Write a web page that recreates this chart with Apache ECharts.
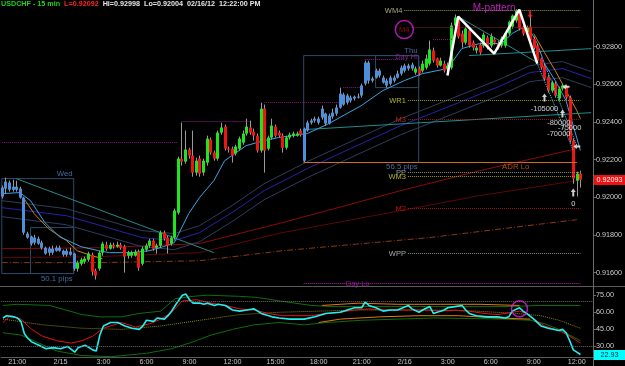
<!DOCTYPE html>
<html>
<head>
<meta charset="utf-8">
<script src="https://cdn.jsdelivr.net/npm/echarts@6/dist/echarts.min.js"></script>
<style>
  html, body { margin: 0; padding: 0; background: #000; }
  #chart { width: 625px; height: 366px; }
</style>
</head>
<body>
<div id="chart"></div>
<script>
const FONT = '"Liberation Sans", Arial, sans-serif';

// USDCHF 15 min, 2/14 20:00 -> 2/16 12:15   [open, close, low, high]
const candles = [
  [0.92003,0.92051,0.91993,0.92062],[0.92046,0.92083,0.92019,0.92104],[0.92078,0.92040,0.92030,0.92088],
  [0.92040,0.92056,0.92030,0.92093],[0.92056,0.92040,0.92030,0.92088],[0.92046,0.91998,0.91993,0.92056],
  [0.91998,0.91812,0.91801,0.92003],[0.91807,0.91786,0.91780,0.91817],[0.91791,0.91754,0.91743,0.91796],
  [0.91759,0.91786,0.91748,0.91801],[0.91780,0.91754,0.91748,0.91791],[0.91759,0.91732,0.91722,0.91770],
  [0.91732,0.91701,0.91695,0.91738],[0.91706,0.91727,0.91690,0.91738],[0.91727,0.91706,0.91695,0.91743],
  [0.91716,0.91732,0.91711,0.91743],[0.91732,0.91716,0.91711,0.91743],[0.91716,0.91695,0.91685,0.91722],
  [0.91695,0.91716,0.91685,0.91727],[0.91711,0.91695,0.91690,0.91732],[0.91701,0.91621,0.91610,0.91706],
  [0.91621,0.91653,0.91605,0.91663],[0.91647,0.91669,0.91637,0.91679],[0.91658,0.91674,0.91647,0.91685],
  [0.91669,0.91701,0.91658,0.91711],[0.91695,0.91605,0.91584,0.91706],[0.91610,0.91584,0.91563,0.91621],
  [0.91621,0.91706,0.91610,0.91716],[0.91706,0.91754,0.91690,0.91764],[0.91748,0.91727,0.91716,0.91764],
  [0.91727,0.91748,0.91722,0.91759],[0.91748,0.91738,0.91727,0.91759],[0.91738,0.91748,0.91732,0.91764],
  [0.91748,0.91732,0.91722,0.91759],[0.91738,0.91685,0.91600,0.91748],[0.91690,0.91706,0.91674,0.91716],
  [0.91690,0.91706,0.91679,0.91716],[0.91690,0.91711,0.91685,0.91722],[0.91711,0.91626,0.91610,0.91722],
  [0.91647,0.91727,0.91637,0.91738],[0.91722,0.91743,0.91711,0.91754],[0.91743,0.91770,0.91732,0.91780],
  [0.91770,0.91727,0.91716,0.91780],[0.91732,0.91743,0.91701,0.91754],[0.91743,0.91812,0.91732,0.91823],
  [0.91812,0.91780,0.91770,0.91823],[0.91786,0.91743,0.91701,0.91796],[0.91754,0.91786,0.91743,0.91796],
  [0.91786,0.91929,0.91775,0.91940],[0.91918,0.92205,0.91908,0.92216],[0.92205,0.92189,0.92168,0.92396],
  [0.92189,0.92253,0.92178,0.92354],[0.92253,0.92221,0.92205,0.92263],[0.92221,0.92131,0.92109,0.92354],
  [0.92131,0.92194,0.92115,0.92210],[0.92205,0.92125,0.92109,0.92221],[0.92131,0.92194,0.92115,0.92205],
  [0.92184,0.92311,0.92168,0.92327],[0.92306,0.92237,0.92226,0.92317],[0.92237,0.92205,0.92194,0.92248],
  [0.92205,0.92343,0.92194,0.92354],[0.92343,0.92370,0.92332,0.92396],[0.92375,0.92258,0.92248,0.92386],
  [0.92258,0.92253,0.92237,0.92269],[0.92258,0.92221,0.92184,0.92269],[0.92232,0.92269,0.92221,0.92279],
  [0.92258,0.92311,0.92248,0.92322],[0.92290,0.92338,0.92279,0.92354],[0.92338,0.92375,0.92327,0.92417],
  [0.92370,0.92343,0.92332,0.92407],[0.92348,0.92327,0.92301,0.92364],[0.92327,0.92248,0.92237,0.92338],
  [0.92248,0.92470,0.92237,0.92502],[0.92470,0.92248,0.92131,0.92492],[0.92258,0.92317,0.92248,0.92327],
  [0.92317,0.92380,0.92306,0.92417],[0.92375,0.92327,0.92317,0.92386],[0.92343,0.92327,0.92317,0.92354],
  [0.92327,0.92263,0.92237,0.92338],[0.92263,0.92317,0.92253,0.92327],[0.92317,0.92332,0.92306,0.92343],
  [0.92327,0.92338,0.92317,0.92348],[0.92327,0.92338,0.92322,0.92348],[0.92354,0.92332,0.92322,0.92364],
  [0.92194,0.92364,0.92184,0.92370],[0.92354,0.92396,0.92348,0.92407],[0.92396,0.92407,0.92386,0.92417],
  [0.92407,0.92417,0.92396,0.92428],[0.92417,0.92396,0.92386,0.92428],[0.92423,0.92470,0.92412,0.92486],
  [0.92444,0.92391,0.92380,0.92449],[0.92391,0.92433,0.92386,0.92444],[0.92428,0.92449,0.92417,0.92470],
  [0.92444,0.92476,0.92433,0.92492],[0.92476,0.92550,0.92470,0.92582],[0.92545,0.92492,0.92486,0.92555],
  [0.92502,0.92540,0.92492,0.92550],[0.92529,0.92513,0.92502,0.92540],[0.92524,0.92534,0.92513,0.92540],
  [0.92529,0.92534,0.92524,0.92550],[0.92540,0.92593,0.92529,0.92603],[0.92603,0.92715,0.92593,0.92725],
  [0.92715,0.92619,0.92603,0.92725],[0.92619,0.92630,0.92609,0.92640],[0.92635,0.92672,0.92630,0.92683],
  [0.92672,0.92646,0.92635,0.92683],[0.92635,0.92609,0.92603,0.92646],[0.92619,0.92593,0.92582,0.92630],
  [0.92603,0.92635,0.92593,0.92646],[0.92619,0.92635,0.92609,0.92646],[0.92635,0.92656,0.92630,0.92672],
  [0.92656,0.92688,0.92646,0.92699],[0.92672,0.92699,0.92662,0.92709],[0.92699,0.92683,0.92672,0.92709],
  [0.92683,0.92704,0.92672,0.92715],[0.92662,0.92683,0.92651,0.92694],[0.92683,0.92656,0.92646,0.92694],
  [0.92672,0.92709,0.92662,0.92725],[0.92688,0.92736,0.92678,0.92757],[0.92709,0.92784,0.92699,0.92832],
  [0.92779,0.92725,0.92715,0.92794],[0.92736,0.92699,0.92688,0.92741],[0.92699,0.92725,0.92694,0.92741],
  [0.92709,0.92672,0.92662,0.92725],[0.92683,0.92699,0.92651,0.92715],[0.92688,0.92911,0.92678,0.92927],
  [0.92911,0.92954,0.92895,0.92970],[0.92948,0.92853,0.92842,0.92959],[0.92869,0.92821,0.92794,0.92885],
  [0.92821,0.92895,0.92810,0.92906],[0.92885,0.92805,0.92794,0.92890],[0.92821,0.92794,0.92779,0.92832],
  [0.92779,0.92794,0.92763,0.92805],[0.92810,0.92768,0.92757,0.92821],[0.92805,0.92863,0.92794,0.92874],
  [0.92848,0.92794,0.92784,0.92858],[0.92805,0.92853,0.92794,0.92869],[0.92837,0.92821,0.92810,0.92848],
  [0.92816,0.92794,0.92784,0.92832],[0.92805,0.92842,0.92794,0.92853],[0.92805,0.92869,0.92794,0.92874],
  [0.92869,0.92932,0.92858,0.92938],[0.92906,0.92964,0.92895,0.92970],[0.92938,0.92991,0.92927,0.92998],
  [0.92980,0.92895,0.92885,0.92996],[0.92906,0.92869,0.92858,0.92911],[0.92874,0.92901,0.92863,0.92911],
  [0.92906,0.92832,0.92821,0.92970],[0.92842,0.92794,0.92784,0.92853],[0.92805,0.92725,0.92715,0.92816],
  [0.92736,0.92688,0.92678,0.92741],[0.92699,0.92630,0.92619,0.92709],[0.92640,0.92566,0.92555,0.92651],
  [0.92566,0.92609,0.92555,0.92619],[0.92603,0.92540,0.92529,0.92614],[0.92524,0.92577,0.92513,0.92587],
  [0.92577,0.92593,0.92566,0.92603],[0.92587,0.92529,0.92518,0.92598],[0.92529,0.92301,0.92290,0.92540],
  [0.92301,0.92099,0.92072,0.92311],[0.92088,0.92125,0.92004,0.92136],[0.92125,0.92093,0.92051,0.92141]
];
const asianBars = [[0, 20], [84, 114]];   // candles drawn blue
const N_BARS = 165;                        // incl. empty space right of last bar
const timeTicks = ['21:00','2/15','3:00','6:00','9:00','12:00','15:00','18:00','21:00','2/16','3:00','6:00','9:00','12:00'];
const priceTicks = [0.916, 0.918, 0.920, 0.922, 0.924, 0.926, 0.928];
const rsiTicks = [30, 45, 60, 75];
const lastPrice = 0.92093;
const lastRsi = 22.93;

// overlays on price: [bar, price]
const emaFast = [[0,0.92019],[5,0.92025],[8,0.91982],[12,0.91865],[16,0.91791],[22,0.91738],[27,0.91716],[30,0.91706],
  [36,0.91706],[41,0.91716],[45,0.91738],[48,0.91759],[52,0.91913],[55,0.91998],[59,0.92088],[62,0.92194],[68,0.92274],
  [73,0.92301],[77,0.92317],[85,0.92338],[91,0.92391],[96,0.92444],[100,0.92486],[106,0.92566],[112,0.92619],
  [117,0.92656],[124,0.92683],[128,0.92789],[133,0.92816],[139,0.92816],[142,0.92869],[145,0.92901],[147,0.92885],
  [149,0.92816],[151,0.92709],[154,0.92619],[157,0.92513],[159,0.92380],[161,0.92248]];
const maNavy = [[0,0.91945],[18,0.91902],[39,0.91786],[48,0.91770],[55,0.91812],[64,0.91918],[73,0.92035],[85,0.92152],
  [97,0.92258],[111,0.92380],[125,0.92486],[139,0.92593],[147,0.92662],[156,0.92683],[164,0.92630]];
const maSlateA = [[0,0.91982],[18,0.91939],[39,0.91823],[48,0.91807],[55,0.91849],[64,0.91955],[73,0.92072],[85,0.92189],
  [97,0.92295],[111,0.92417],[125,0.92523],[139,0.92630],[147,0.92699],[156,0.92720],[164,0.92667]];
const maSlateB = [[0,0.91897],[18,0.91854],[39,0.91738],[48,0.91722],[55,0.91764],[64,0.91870],[73,0.91987],[85,0.92104],
  [97,0.92210],[111,0.92332],[125,0.92438],[139,0.92545],[147,0.92614],[156,0.92635],[164,0.92582]];
const maRedA = [[0,0.91727],[27,0.91732],[55,0.91754],[78,0.91865],[111,0.92035],[133,0.92141],[160,0.92258]];
const maRedB = [[0,0.91679],[27,0.91685],[55,0.91706],[78,0.91812],[111,0.91929],[133,0.92009],[160,0.92088]];
const maBrown = [[0,0.91653],[27,0.91653],[55,0.91663],[78,0.91716],[119,0.91786],[160,0.91881]];
const trailA = [[6,0.91998],[9,0.91913],[13,0.91833],[18,0.91770],[21,0.91716],[25,0.91690],[28,0.91674]];
const trailB = [[148,0.92869],[151,0.92768],[154,0.92672],[157,0.92566],[160,0.92460],[161,0.92417]];
const trendLines = [
  [[4,0.92099],[59,0.91706]],
  [[85,0.92360],[164,0.92449]],
  [[130,0.92752],[164,0.92789]],
  [[127,0.92959],[149,0.92715]]
];
const mPattern = [[124,0.92646],[127,0.92959],[137,0.92763],[144,0.92996],[149,0.92709]];
const projLines = [[[149,0.92709],[159,0.92248]], [[151,0.92709],[160,0.92274]]];

// pivot levels: [label, price, first bar]
const pivotLevels = [['WM4',0.92991,112],['',0.92901,114],['WR1',0.92513,113],['M3',0.92412,113],
  ['PP',0.92131,113],['WM3',0.92109,113],['M2',0.91940,113],['WPP',0.91701,113]];
const dayLo = [0.91541, 84];
const adrLo = [0.92184, 84, 160];
const sessionHighs = [[0.92290,0,49],[0.92401,50,69],[0.92502,73,94],[0.92582,95,100],[0.92731,101,112],[0.92837,120,126]];
// boxes: [fromBar, toBar, top, bottom]
const sessionBoxes = [[0,20,0.92099,0.91595],[8,20,0.91839,0.91595],[84,116,0.92752,0.92184],[104,116,0.92752,0.92582]];
const boxLabels = [['Wed',20,0.92125],['50.1 pips',20,0.91568],['Thu',116,0.92779],['56.5 pips',116,0.92162]];
const tradeLabels = [['-105000',151,0.92470],['-80000',155,0.92396],['-75000',158,0.92370],['-70000',155,0.92338],['0',159,0.91966]];
const upArrows = [[151,0.92529],[156,0.92444],[159,0.92025]];
const leftArrows = [[157,0.92587],[160,0.92269]];
const downArrows = [[147,0.92970]];

// oscillator panel: [bar, value]
const rsi = [[0,55],[1,57],[3,56],[4,55],[5,52],[6,41],[7,37],[8,34],[10,31],[12,28],[14,29],[16,28],[18,30],[20,25],
  [21,29],[23,31],[25,27],[26,26],[27,40],[28,48],[30,51],[32,51],[34,48],[36,46],[38,45],[39,48],[40,53],[42,52],
  [43,55],[45,54],[46,57],[47,61],[48,66],[50,75],[51,76],[52,71],[53,68],[55,68],[56,67],[57,68],[59,66],[60,67],
  [62,66],[64,62],[66,61],[68,62],[70,63],[72,59],[75,56],[77,55],[80,54],[84,54],[87,56],[90,59],[94,60],[96,62],
  [98,64],[100,64],[101,69],[102,66],[104,64],[106,61],[108,62],[110,62],[113,66],[114,63],[116,60],[117,62],[119,65],
  [120,59],[123,62],[124,64],[126,65],[128,66],[129,62],[130,59],[132,57],[135,56],[138,56],[140,55],[141,56],[142,61],
  [144,64],[145,61],[146,59],[148,54],[150,48],[152,46],[155,44],[156,45],[157,42],[158,35],[159,27],[160,25],[161,22.93]];
const rsiSignal = [[0,51],[2,57],[5,54],[8,45],[11,39],[15,35],[19,33],[22,35],[25,39],[28,46],[33,51],[37,47],[41,50],
  [44,54],[47,60],[50,70],[54,71],[58,68],[62,66],[66,63],[70,62],[74,59],[78,57],[82,57],[86,57],[90,59],[94,60],
  [98,62],[102,63],[106,62],[110,62],[114,62],[118,62],[122,61],[126,62],[130,61],[134,59],[138,58],[142,60],[144,61],
  [146,59],[148,54],[151,48],[155,44],[158,39],[161,33]];
const bandUpper = [[0,66],[4,67],[13,66],[22,58],[27,56],[33,56],[38,59],[44,61],[48,72],[53,74],[57,75],[66,74],[71,73],
  [77,70],[86,66],[92,65],[100,65],[120,65],[140,65],[150,66],[161,66]];
const bandLower = [[0,42],[5,40],[10,33],[15,26],[22,22],[30,21],[40,24],[47,28],[52,33],[58,40],[64,45],[70,49],[77,51],
  [84,49],[90,51],[100,53],[120,55],[140,54],[147,53],[151,50],[155,45],[161,35]];
const sessUpper = [[89,66],[99,68],[110,67],[122,67],[133,67],[144,66]];
const sessLower = [[88,51],[94,54],[105,56],[116,57],[127,57],[138,55],[147,54]];
const bandMid = [[0,54],[11,49],[22,46],[33,45],[44,48],[55,53],[66,58],[77,60],[88,61],[99,62],[110,62],[121,62],
  [132,61],[143,59],[150,57],[155,53],[161,46]];
const rsiLevels = [70, 30];
const rsiMark = [144, 63];

const levelColor = { WM4: '#9d9d48', '': '#8e2020', WR1: '#9a9a22', M3: '#a01818', PP: '#8a8a8a', WM3: '#9a9a22', M2: '#a01818', WPP: '#8a8a8a' };
const levelText = { WM4: '#a8a878', WR1: '#b4b428', M3: '#c81e1e', PP: '#9a9a9a', WM3: '#b4b428', M2: '#b41414', WPP: '#a8a8a8' };

const cats = Array.from({ length: N_BARS }, (_, i) => String(i));
const tickLabel = i => (i >= 4 && (i - 4) % 12 === 0) ? (timeTicks[(i - 4) / 12] || '') : '';

const chart = echarts.init(document.getElementById('chart'), null, { renderer: 'canvas' });

function priceLine(data, color, width, type, z) {
  return { type: 'line', data, xAxisIndex: 0, yAxisIndex: 0, symbol: 'none', silent: true, z: z || 2,
           lineStyle: { color, width: width || 1, type: type || 'solid' } };
}
function oscLine(data, color, width, type) {
  return { type: 'line', data, xAxisIndex: 1, yAxisIndex: 1, symbol: 'none', silent: true, z: 3,
           lineStyle: { color, width: width || 1, type: type || 'solid' } };
}
function textSeries(items, color, size, position, z) {
  return { type: 'scatter', xAxisIndex: 0, yAxisIndex: 0, silent: true, z: z || 8, symbolSize: 0,
           data: items.map(t => ({ value: [t[1], t[2]], label: { formatter: t[0] } })),
           label: { show: true, position: position || 'inside', distance: 1, color, fontSize: size, fontFamily: FONT } };
}

function renderCandle(params, api) {
  const i = api.value(0), o = api.value(1), c = api.value(2), lo = api.value(3), hi = api.value(4);
  const pO = api.coord([i, o]), pC = api.coord([i, c]);
  const yL = api.coord([i, lo])[1], yH = api.coord([i, hi])[1];
  const xc = Math.round(pO[0]);
  const blue = asianBars.some(r => i >= r[0] && i <= r[1]);
  const fill = blue ? '#4d8fd8' : (c >= o ? '#1ee61e' : '#f01414');
  const top = Math.min(pO[1], pC[1]);
  const h = Math.max(1, Math.abs(pO[1] - pC[1]));
  return { type: 'group', children: [
    { type: 'line', shape: { x1: xc + 0.5, y1: yL, x2: xc + 0.5, y2: yH }, style: { stroke: '#9a9a9a', lineWidth: 1 } },
    { type: 'rect', shape: { x: xc - 1, y: top, width: 3, height: h }, style: { fill } }
  ] };
}

const upPath = 'path://M5,0 L10,6 L7,6 L7,14 L3,14 L3,6 L0,6 Z';
const downPath = 'path://M3,0 L7,0 L7,8 L10,8 L5,14 L0,8 L3,8 Z';
const leftPath = 'path://M0,5 L6,0 L6,3 L12,3 L12,7 L6,7 L6,10 Z';

const series = [
  // helper series that carries levels and boxes
  { type: 'line', data: [[0, lastPrice]], xAxisIndex: 0, yAxisIndex: 0, symbol: 'none', silent: true, z: 1,
    lineStyle: { opacity: 0 },
    markArea: { silent: true, data: sessionBoxes.map(b => [
      { coord: [b[0], b[2]], itemStyle: { color: 'rgba(0,0,0,0)', borderColor: '#2c4a6a', borderWidth: 1 } },
      { coord: [b[1], b[3]] }]) },
    markLine: { silent: true, symbol: ['none', 'none'], animation: false, data: [].concat(
      pivotLevels.map(l => [
        { coord: [l[2], l[1]], lineStyle: { color: levelColor[l[0]], width: 1, type: 'dotted' },
          label: { show: l[0] !== '', formatter: l[0], position: 'start', distance: 2, color: levelText[l[0]], fontSize: 7.5, fontFamily: FONT } },
        { coord: [161, l[1]] }]),
      sessionHighs.map(s => [
        { coord: [s[1], s[0]], lineStyle: { color: '#8a1a8a', width: 1, type: 'dotted' }, label: { show: false } },
        { coord: [s[2], s[0]] }]),
      [[{ coord: [dayLo[1], dayLo[0]], lineStyle: { color: '#b01eb0', width: 1, type: 'dotted' }, label: { show: false } },
        { coord: [161, dayLo[0]] }],
       [{ coord: [adrLo[1], adrLo[0]], lineStyle: { color: '#d2691e', width: 1.2, type: 'solid' }, label: { show: false } },
        { coord: [adrLo[2], adrLo[0]] }]]
    ) } },
  priceLine(maRedA, '#8a0c0c'),
  priceLine(maRedB, '#5e0808'),
  priceLine(maBrown, '#8a3a14', 1, [6, 2, 1, 2]),
  priceLine(maSlateA, '#2c3e5c'),
  priceLine(maSlateB, '#2c3e5c'),
  priceLine(maNavy, '#2424a8'),
  priceLine(trailA, '#c8841c'),
  priceLine(trailB, '#c8841c'),
  ...trendLines.map(t => priceLine(t, '#238c8c')),
  priceLine(emaFast, '#3aa4e0', 1, 'solid', 3),
  { type: 'custom', renderItem: renderCandle, xAxisIndex: 0, yAxisIndex: 0, silent: true, z: 4,
    encode: { x: 0, y: [1, 2, 3, 4] }, data: candles.map((d, i) => [i, d[0], d[1], d[2], d[3]]) },
  ...projLines.map(p => priceLine(p, '#3cd2e6', 1, 'dotted', 5)),
  priceLine(mPattern, '#ffffff', 2.5, 'solid', 6),
  textSeries([['M-pattern', 137, 0.93001]], '#e628e6', 10, 'inside', 7),
  textSeries(boxLabels, '#5487c0', 7.8, 'left', 7),
  textSeries([['Day Hi', 116, 0.92747]], '#9a2aa0', 7.5, 'left', 7),
  textSeries([['ADR Lo', 143, 0.92162]], '#d2691e', 7.8, 'inside', 7),
  textSeries([['Day Lo', 99, 0.91541]], '#b41eb4', 7.5, 'inside', 7),
  textSeries(tradeLabels, '#ffffff', 7.5, 'inside', 9),
  { type: 'scatter', xAxisIndex: 0, yAxisIndex: 0, silent: true, z: 9, symbol: upPath, symbolSize: [5, 8],
    itemStyle: { color: '#ffffff' }, data: upArrows },
  { type: 'scatter', xAxisIndex: 0, yAxisIndex: 0, silent: true, z: 9, symbol: leftPath, symbolSize: [7, 5],
    itemStyle: { color: '#ffffff' }, data: leftArrows },
  { type: 'scatter', xAxisIndex: 0, yAxisIndex: 0, silent: true, z: 9, symbol: downPath, symbolSize: [5, 8],
    itemStyle: { color: '#ff2020' }, data: downArrows },
  { type: 'scatter', xAxisIndex: 0, yAxisIndex: 0, silent: true, z: 9, symbol: 'circle', symbolSize: 18,
    itemStyle: { color: 'rgba(0,0,0,0)', borderColor: '#e01ee0', borderWidth: 1.5 },
    label: { show: true, position: 'inside', formatter: 'M4', color: '#b01818', fontSize: 7.5, fontFamily: FONT },
    data: [[112, 0.92890]] },

  // oscillator panel
  Object.assign(oscLine(bandUpper, '#0e6e0e'), {
    markLine: { silent: true, symbol: ['none', 'none'], animation: false, label: { show: false },
      lineStyle: { color: '#6a6a6a', type: 'dotted', width: 1 }, data: rsiLevels.map(v => ({ yAxis: v })) } }),
  oscLine(bandLower, '#0e6e0e'),
  oscLine(sessUpper, '#e07a10'),
  oscLine(sessLower, '#e07a10'),
  oscLine(bandMid, '#8a8a1a', 1, 'dotted'),
  oscLine(rsiSignal, '#e41414'),
  oscLine(rsi, '#22f0f0', 1.6),
  { type: 'scatter', xAxisIndex: 1, yAxisIndex: 1, silent: true, z: 6, symbol: 'circle', symbolSize: 16,
    itemStyle: { color: 'rgba(0,0,0,0)', borderColor: '#e01ee0', borderWidth: 1.5 }, data: [rsiMark] }
];

const option = {
  backgroundColor: '#000000',
  animation: false,
  textStyle: { fontFamily: FONT },
  title: {
    left: 1, top: 1, padding: 0,
    text: '{a|USDCHF - 15 min}  {b|L=0.92092}  {c|Hi=0.92998  Lo=0.92004  02/16/12  12:22:00 PM}',
    textStyle: { fontSize: 7.2, fontFamily: FONT, rich: {
      a: { color: '#1ed21e', fontSize: 7.2, fontFamily: FONT },
      b: { color: '#ff2424', fontSize: 7.2, fontFamily: FONT },
      c: { color: '#e6e6e6', fontSize: 7.2, fontFamily: FONT } } }
  },
  grid: [
    { left: 0, right: 32, top: 0, height: 286 },
    { left: 0, right: 32, top: 287, height: 71 }
  ],
  xAxis: [
    { type: 'category', gridIndex: 0, data: cats, boundaryGap: true, show: false },
    { type: 'category', gridIndex: 1, data: cats, boundaryGap: true,
      axisLine: { lineStyle: { color: '#5a5a5a' } }, axisTick: { show: false },
      axisLabel: { interval: 0, margin: 2, color: '#c8c8c8', fontSize: 7.2, fontFamily: FONT,
        formatter: (v, idx) => tickLabel(idx) } }
  ],
  yAxis: [
    { type: 'value', gridIndex: 0, position: 'right', min: 0.91529, max: 0.93047, splitLine: { show: false },
      axisLine: { show: true, lineStyle: { color: '#6a6a6a' } },
      axisTick: { show: true, length: 3, lineStyle: { color: '#6a6a6a' }, customValues: priceTicks },
      axisLabel: { margin: 3, color: '#d0d0d0', fontSize: 7.2, fontFamily: FONT, customValues: priceTicks,
        formatter: v => v.toFixed(5) } },
    { type: 'value', gridIndex: 1, position: 'right', min: 20.74, max: 82.2, splitLine: { show: false },
      axisLine: { show: true, lineStyle: { color: '#6a6a6a' } },
      axisTick: { show: true, length: 3, lineStyle: { color: '#6a6a6a' }, customValues: rsiTicks },
      axisLabel: { margin: 3, color: '#d0d0d0', fontSize: 7.2, fontFamily: FONT, customValues: rsiTicks,
        formatter: v => v.toFixed(2) } }
  ],
  series
};
chart.setOption(option);

// price / oscillator tags on the right scale
const yPrice = chart.convertToPixel({ yAxisIndex: 0 }, lastPrice);
const yRsi = chart.convertToPixel({ yAxisIndex: 1 }, lastRsi);
chart.setOption({
  graphic: [
    { type: 'line', shape: { x1: 0, y1: 286.5, x2: 625, y2: 286.5 }, style: { stroke: '#5a5a5a', lineWidth: 1 }, z: 1 },
    { type: 'line', shape: { x1: 593.5, y1: 0, x2: 593.5, y2: 366 }, style: { stroke: '#6a6a6a', lineWidth: 1 }, z: 1 },
    { type: 'rect', shape: { x: 594, y: Math.round(yPrice) - 5, width: 31, height: 10 }, style: { fill: '#f01010' }, z: 20 },
    { type: 'text', x: 609.5, y: Math.round(yPrice), z: 21,
      style: { text: lastPrice.toFixed(5), fill: '#ffffff', font: '7.2px ' + FONT, textAlign: 'center', textVerticalAlign: 'middle' } },
    { type: 'rect', shape: { x: 594, y: Math.round(yRsi) - 5, width: 31, height: 10 }, style: { fill: '#00ffff' }, z: 20 },
    { type: 'text', x: 609.5, y: Math.round(yRsi), z: 21,
      style: { text: lastRsi.toFixed(2), fill: '#002040', font: '7.2px ' + FONT, textAlign: 'center', textVerticalAlign: 'middle' } }
  ]
});
</script>
</body>
</html>
